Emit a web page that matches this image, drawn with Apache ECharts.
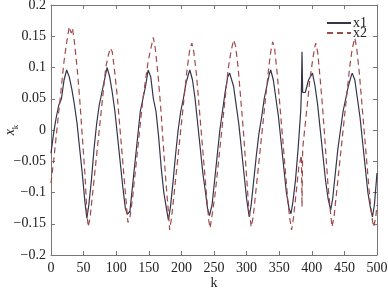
<!DOCTYPE html>
<html>
<head>
<meta charset="utf-8">
<script src="https://cdn.jsdelivr.net/npm/echarts@6/dist/echarts.min.js"></script>
<style>
html, body { margin: 0; padding: 0; background: #fff; }
#chart { width: 388px; height: 290px; }
</style>
</head>
<body>
<div id="chart"></div>
<script>
// x1: solid line, [k, value]
const x1 = [
  [0, -0.037], [4, -0.005], [8, 0.02], [12, 0.04], [16, 0.05], [20, 0.08], [24, 0.096], [28, 0.085],
  [32, 0.065], [36, 0.04], [40, 0.01], [44, -0.03], [48, -0.07], [52, -0.115], [55, -0.141], [58, -0.12],
  [62, -0.08], [66, -0.03], [70, 0.01], [74, 0.04], [78, 0.06], [82, 0.08], [86, 0.1], [90, 0.085],
  [94, 0.06], [98, 0.03], [102, -0.01], [106, -0.05], [110, -0.09], [114, -0.125], [117, -0.135], [121, -0.13],
  [125, -0.09], [129, -0.05], [133, -0.01], [137, 0.03], [141, 0.05], [145, 0.07], [149, 0.096], [153, 0.085],
  [157, 0.05], [161, 0.03], [165, -0.01], [169, -0.06], [173, -0.1], [177, -0.125], [180, -0.144], [183, -0.125],
  [187, -0.085], [191, -0.04], [195, 0], [199, 0.03], [203, 0.05], [207, 0.075], [211, 0.09], [213, 0.096],
  [217, 0.08], [221, 0.05], [225, 0.01], [229, -0.03], [233, -0.07], [237, -0.1], [240, -0.125], [243, -0.137],
  [247, -0.12], [251, -0.08], [255, -0.04], [259, 0], [263, 0.03], [267, 0.06], [271, 0.085], [274, 0.091],
  [277, 0.09], [280, 0.07], [284, 0.04], [288, 0.01], [292, -0.03], [296, -0.07], [300, -0.11], [304, -0.139],
  [307, -0.12], [311, -0.08], [315, -0.04], [319, -0.005], [323, 0.02], [327, 0.05], [331, 0.07], [335, 0.09],
  [337, 0.096], [341, 0.08], [345, 0.05], [349, 0.02], [353, -0.02], [357, -0.06], [361, -0.1], [365, -0.125],
  [368, -0.134], [371, -0.115], [375, -0.08], [379, -0.03], [383, 0.03], [384, 0.06], [385, 0.125], [386, 0.06],
  [390, 0.06], [395, 0.08], [401, 0.091], [405, 0.07], [409, 0.04], [413, 0], [417, -0.04], [421, -0.08],
  [425, -0.11], [429, -0.128], [432, -0.11], [436, -0.07], [440, -0.03], [444, 0], [448, 0.03], [452, 0.05],
  [456, 0.07], [460, 0.085], [462, 0.091], [466, 0.08], [470, 0.05], [474, 0.02], [478, -0.02], [482, -0.06],
  [486, -0.1], [490, -0.125], [493, -0.139], [496, -0.12], [500, -0.069]
];

// x2: dashed line, [k, value]
const x2 = [
  [0, -0.085], [4, -0.05], [8, -0.01], [12, 0.03], [16, 0.07], [20, 0.11], [24, 0.14], [28, 0.165],
  [31, 0.155], [33, 0.163], [36, 0.14], [40, 0.1], [44, 0.05], [48, -0.01], [52, -0.07], [55, -0.13],
  [57, -0.155], [60, -0.14], [64, -0.1], [68, -0.06], [72, -0.02], [76, 0.02], [80, 0.06], [84, 0.1],
  [88, 0.12], [91, 0.131], [94, 0.125], [98, 0.09], [102, 0.05], [106, 0], [110, -0.05], [114, -0.1],
  [118, -0.148], [121, -0.14], [125, -0.11], [129, -0.07], [133, -0.03], [137, 0.01], [141, 0.05], [145, 0.08],
  [149, 0.11], [153, 0.13], [157, 0.148], [160, 0.13], [164, 0.09], [168, 0.04], [172, -0.02], [176, -0.08],
  [180, -0.13], [182, -0.16], [185, -0.14], [189, -0.1], [193, -0.06], [197, -0.02], [201, 0.02], [205, 0.06],
  [209, 0.1], [213, 0.13], [216, 0.139], [219, 0.125], [223, 0.09], [227, 0.04], [231, -0.01], [235, -0.06],
  [239, -0.11], [242, -0.145], [244, -0.157], [248, -0.13], [252, -0.1], [256, -0.06], [260, -0.02], [264, 0.02],
  [268, 0.06], [272, 0.1], [276, 0.125], [280, 0.144], [283, 0.135], [287, 0.1], [291, 0.05], [295, 0],
  [299, -0.06], [303, -0.12], [307, -0.155], [310, -0.14], [314, -0.1], [318, -0.06], [322, -0.02], [326, 0.02],
  [330, 0.06], [334, 0.1], [337, 0.125], [340, 0.141], [343, 0.13], [347, 0.09], [351, 0.04], [355, -0.01],
  [359, -0.06], [363, -0.11], [366, -0.14], [369, -0.16], [372, -0.14], [376, -0.1], [380, -0.06], [384, -0.04],
  [385, -0.123], [386, -0.03], [389, 0], [393, 0.04], [397, 0.08], [401, 0.11], [404, 0.13], [406, 0.139],
  [409, 0.125], [413, 0.08], [417, 0.03], [421, -0.03], [425, -0.09], [429, -0.135], [431, -0.155], [434, -0.14],
  [438, -0.1], [442, -0.06], [446, -0.02], [450, 0.02], [454, 0.06], [458, 0.1], [462, 0.13], [466, 0.147],
  [469, 0.13], [473, 0.09], [477, 0.04], [481, -0.01], [485, -0.06], [489, -0.11], [493, -0.145], [495, -0.155],
  [498, -0.14], [500, -0.12]
];

const seriesNames = ["x1", "x2"];
const xTicks = [0, 500, 50];
const yTicks = [-0.2, 0.2, 0.05];

const font = "Liberation Serif";
const frame = "#777";

const fmtY = (v) => {
  const r = Math.round(v * 100) / 100;
  if (r === 0) return "0";
  return (r < 0 ? "\u2212" : "") + String(Math.abs(r));
};

const chart = echarts.init(document.getElementById("chart"), null, { renderer: "canvas" });

const tickStyle = { show: true, inside: true, length: 4, lineStyle: { color: frame, width: 1 } };
const lineOf = (color) => ({ color: color, width: 1.2 });

chart.setOption({
  animation: false,
  grid: { left: 51, right: 11, top: 5, bottom: 35, containLabel: false, outerBoundsMode: "none" },
  legend: {
    right: 16, top: 11, orient: "vertical", itemGap: -4, itemWidth: 24, itemHeight: 10,
    itemStyle: { opacity: 0 },
    textStyle: { fontFamily: font, fontSize: 14, color: "#222", padding: [0, 0, 0, -3] },
    data: seriesNames
  },
  xAxis: [
    {
      type: "value", min: xTicks[0], max: xTicks[1], interval: xTicks[2],
      name: "k", nameLocation: "middle", nameGap: 21, nameMoveOverlap: false,
      nameTextStyle: { fontFamily: font, fontSize: 14, color: "#222" },
      axisLine: { onZero: false, lineStyle: { color: frame, width: 1 } },
      axisTick: tickStyle,
      axisLabel: { fontFamily: font, fontSize: 14, color: "#222", margin: 6 },
      splitLine: { show: false }
    },
    {
      type: "value", position: "top", min: xTicks[0], max: xTicks[1], interval: xTicks[2],
      axisLine: { onZero: false, lineStyle: { color: frame, width: 1 } },
      axisTick: tickStyle, axisLabel: { show: false }, splitLine: { show: false }
    }
  ],
  yAxis: [
    {
      type: "value", min: yTicks[0], max: yTicks[1], interval: yTicks[2],
      name: "{a|x}{b|k}", nameLocation: "middle", nameGap: 34, nameRotate: 90, nameMoveOverlap: false,
      nameTextStyle: {
        rich: {
          a: { fontFamily: font, fontStyle: "italic", fontSize: 14, color: "#222", lineHeight: 16, verticalAlign: "bottom" },
          b: { fontFamily: font, fontSize: 9, color: "#222", lineHeight: 9, verticalAlign: "bottom", padding: [0, 0, -3, 0] }
        }
      },
      axisLine: { onZero: false, lineStyle: { color: frame, width: 1 } },
      axisTick: tickStyle,
      axisLabel: { fontFamily: font, fontSize: 14, color: "#222", margin: 5, formatter: fmtY },
      splitLine: { show: false }
    },
    {
      type: "value", position: "right", min: yTicks[0], max: yTicks[1], interval: yTicks[2],
      axisLine: { show: true, onZero: false, lineStyle: { color: frame, width: 1 } },
      axisTick: tickStyle, axisLabel: { show: false }, splitLine: { show: false }
    }
  ],
  series: [
    {
      name: seriesNames[0], type: "line", data: x1, showSymbol: false, symbol: "none",
      lineStyle: lineOf("#34344a"), itemStyle: { color: "#34344a" }
    },
    {
      name: seriesNames[1], type: "line", data: x2, showSymbol: false, symbol: "none",
      lineStyle: Object.assign(lineOf("#a04a4a"), { type: [6, 4] }), itemStyle: { color: "#a04a4a" }
    }
  ]
});
</script>
</body>
</html>
